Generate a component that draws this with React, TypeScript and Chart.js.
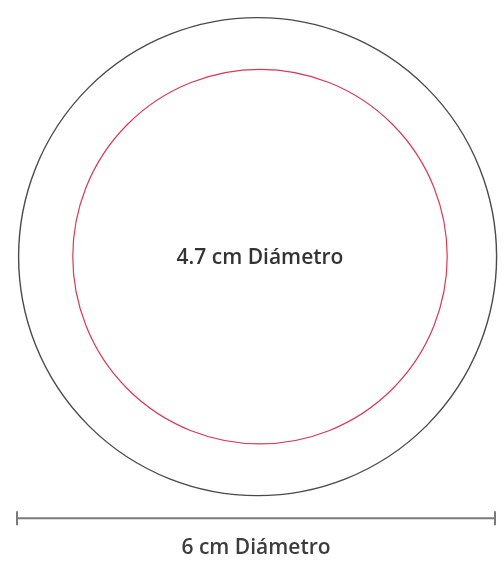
import React, { useEffect, useRef } from "react";
import { Chart, registerables } from "chart.js";

Chart.register(...registerables);

// Data (cm)
const diameters = [6, 4.7];
const ringLabels = ["6 cm Diámetro", "4.7 cm Diámetro"];
const ringColors = ["#4a4a4a", "#d83a55"];
const ringWidths = [1.4, 1.2];

// Layout (cm, in the drawing's own coordinate system)
const centerX = [3.02, 3.05];
const centerY = 3.17;
const rulerY = 6.52;
const innerLabelY = 3.19;
const outerLabelY = 6.9;
const X_MAX = 6;
const Y_MAX = 569 / (484 / 6);

const labelPlugin = {
  id: "ringLabels",
  afterDatasetsDraw(chart: any) {
    const { ctx, scales } = chart;
    const x = scales.x;
    const y = scales.y;
    ctx.save();
    ctx.textAlign = "center";
    ctx.textBaseline = "middle";
    ctx.fillStyle = "#333333";
    ctx.font = "600 21px 'Open Sans'";
    ctx.fillText(ringLabels[1], x.getPixelForValue(centerX[1]), y.getPixelForValue(innerLabelY));
    ctx.fillStyle = "#3c3c3c";
    ctx.font = "600 21px 'Open Sans'";
    ctx.fillText(ringLabels[0], x.getPixelForValue(X_MAX / 2), y.getPixelForValue(outerLabelY));
    ctx.restore();
  },
};

export default function App() {
  const ref = useRef<HTMLCanvasElement | null>(null);

  useEffect(() => {
    if (!ref.current) return;
    const radiusFor = (d: number) => (c: any) => {
      const sx = c.chart.scales.x;
      return Math.abs(sx.getPixelForValue(d / 2) - sx.getPixelForValue(0));
    };
    const ringSets = diameters.map((d, i) => ({
      type: "scatter" as const,
      data: [{ x: centerX[i], y: centerY }],
      pointRadius: radiusFor(d),
      pointHoverRadius: radiusFor(d),
      pointBackgroundColor: "rgba(0,0,0,0)",
      pointBorderColor: ringColors[i],
      pointBorderWidth: ringWidths[i],
      clip: false as any,
    }));
    const chart = new Chart(ref.current, {
      type: "scatter",
      data: {
        datasets: [
          ...ringSets,
          {
            type: "line" as const,
            data: [
              { x: 0, y: rulerY },
              { x: diameters[0], y: rulerY },
            ],
            borderColor: "#7a7a7a",
            borderWidth: 2,
            pointStyle: "line",
            pointRotation: 90,
            pointRadius: 7,
            pointBorderColor: "#7a7a7a",
            pointBorderWidth: 2,
            showLine: true,
            clip: false as any,
          },
        ] as any,
      },
      options: {
        animation: false,
        responsive: true,
        maintainAspectRatio: false,
        layout: { padding: { left: 17, right: 3, top: 0, bottom: 0 } },
        plugins: { legend: { display: false }, tooltip: { enabled: false } },
        events: [],
        scales: {
          x: { type: "linear", min: 0, max: X_MAX, display: false },
          y: { type: "linear", min: 0, max: Y_MAX, reverse: true, display: false },
        },
      },
      plugins: [labelPlugin],
    });
    return () => chart.destroy();
  }, []);

  return (
    <div style={{ position: "fixed", left: 0, top: 0, width: 504, height: 569, background: "#ffffff" }}>
      <canvas ref={ref} />
    </div>
  );
}
